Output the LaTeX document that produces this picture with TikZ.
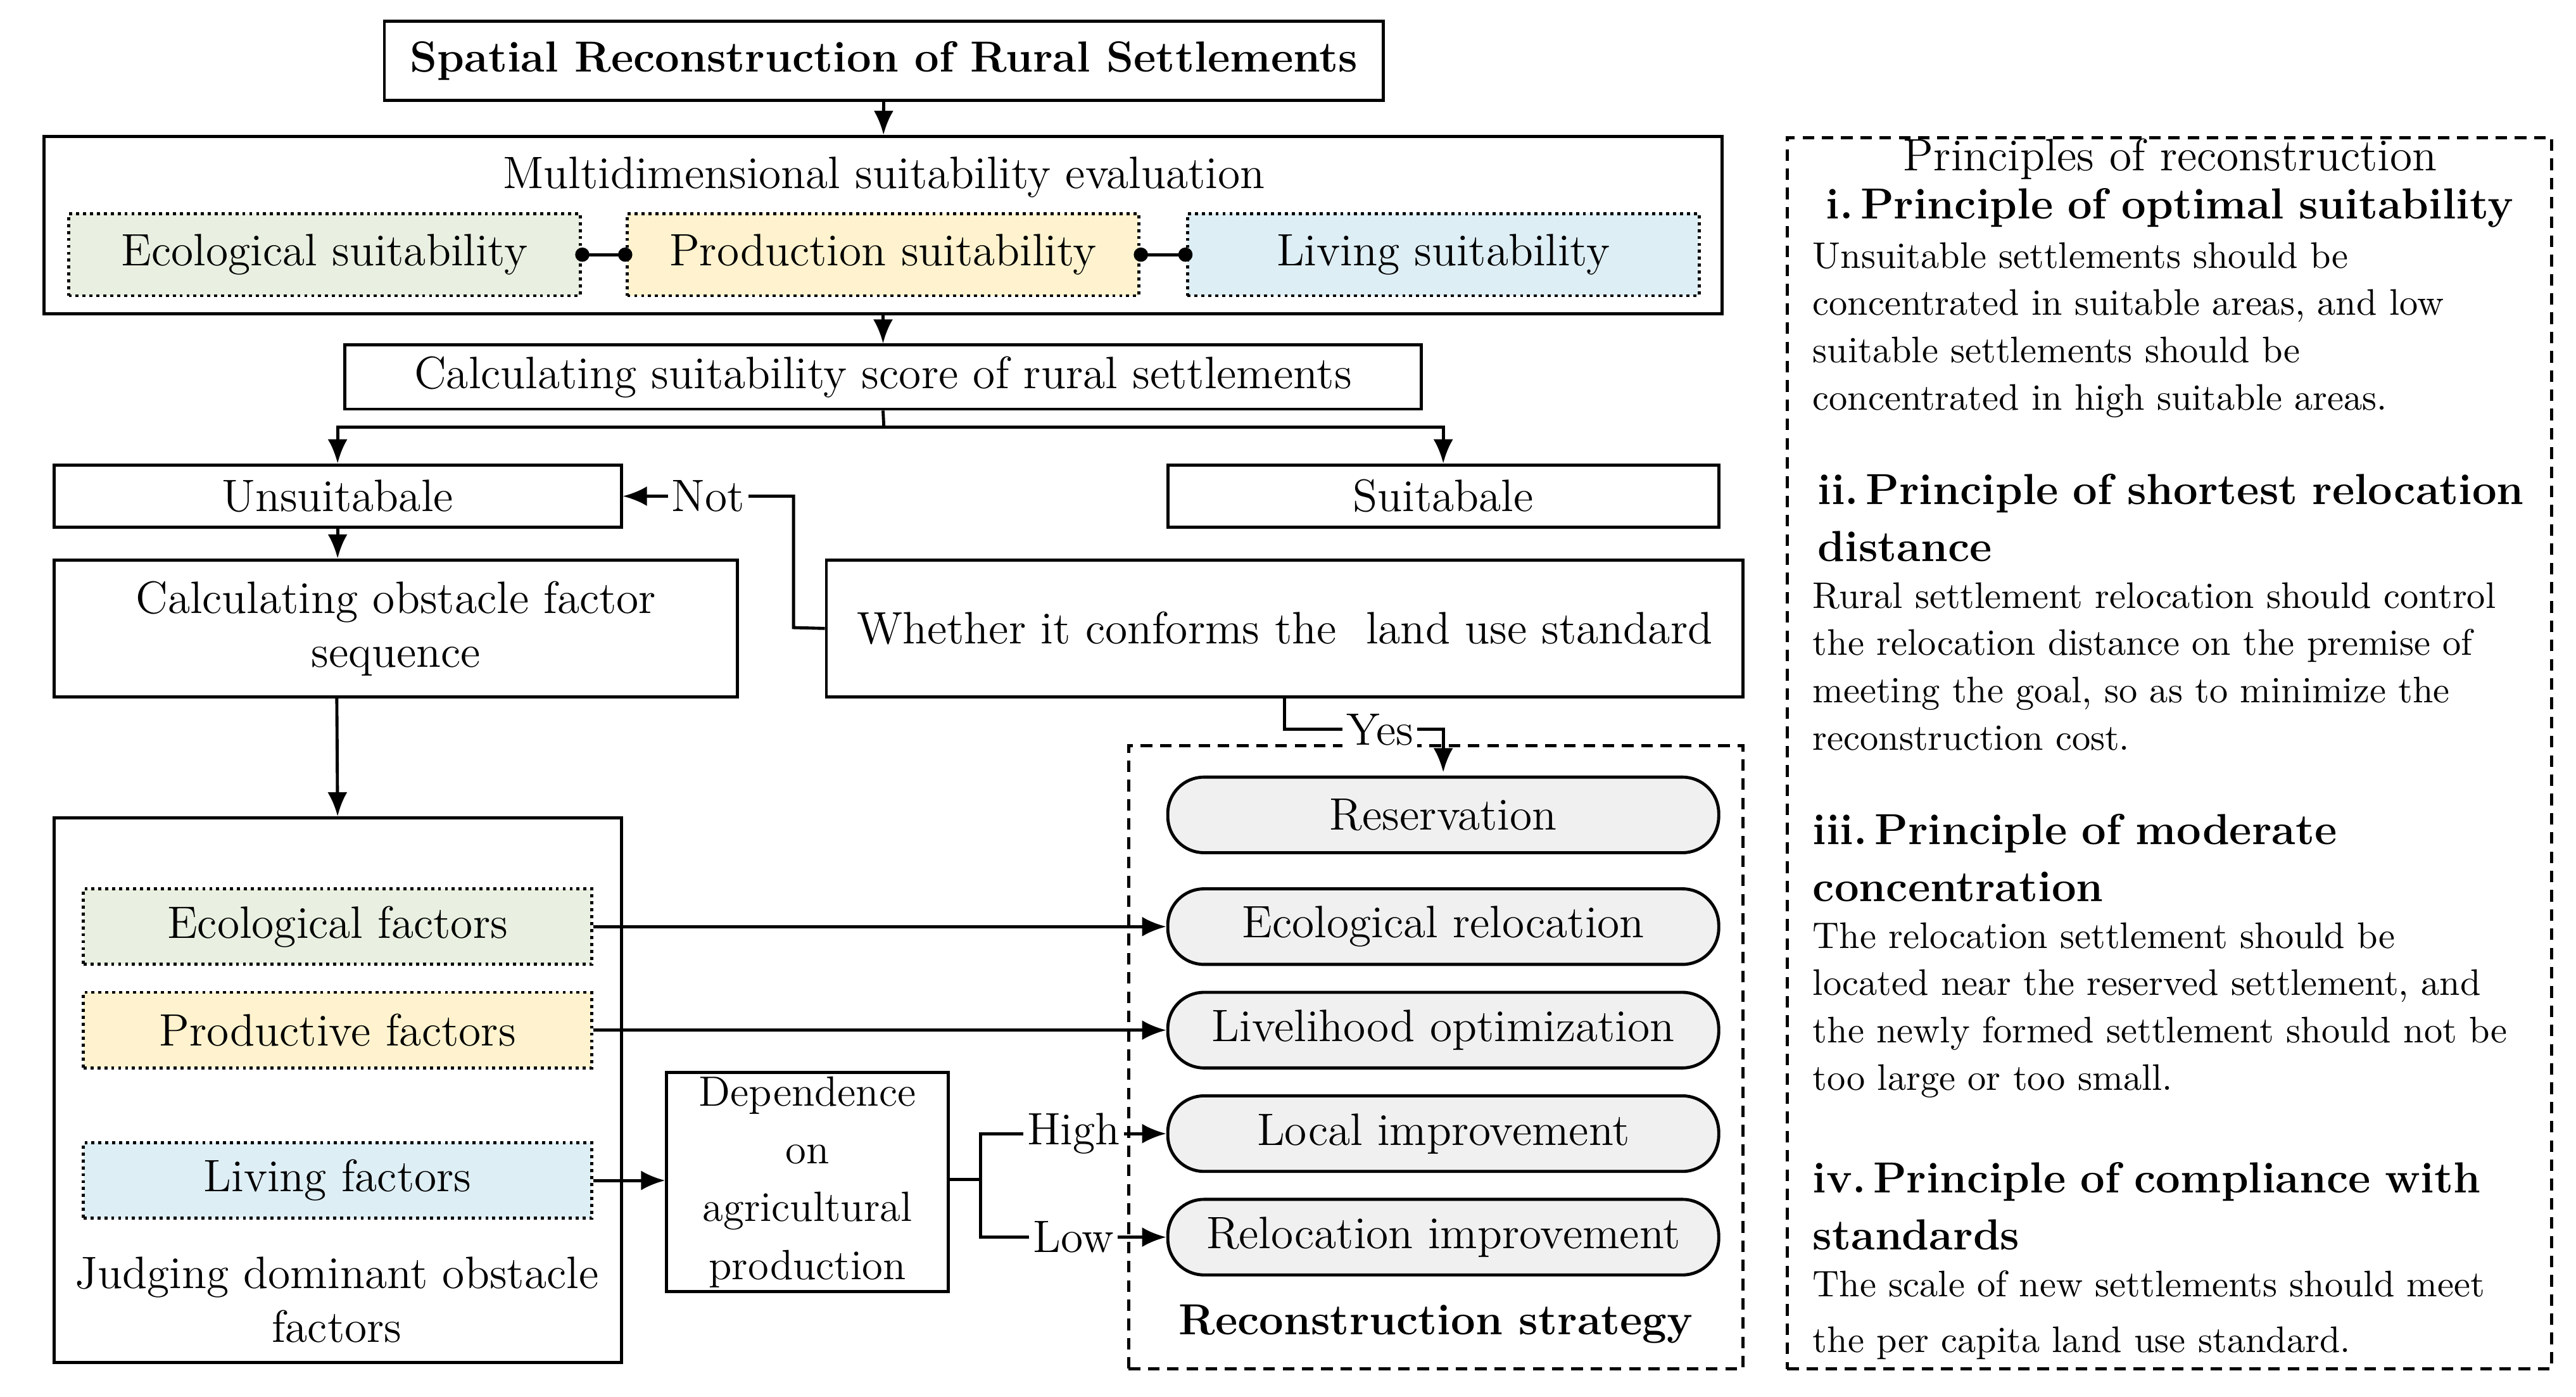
\documentclass[tikz,border=0pt]{standalone}
\usetikzlibrary{arrows.meta}
\definecolor{ecoc}{HTML}{E9F0E1}
\definecolor{proc}{HTML}{FEF3CE}
\definecolor{livc}{HTML}{DEEEF5}
\definecolor{strc}{HTML}{F0F0F0}
\begin{document}
\begin{tikzpicture}[x=0.015cm,y=-0.015cm,>={Latex[length=2.2mm,width=1.8mm]},font=\fontsize{11.8}{14}\selectfont]
\tikzstyle{b}=[draw, thick, inner sep=1pt, align=center];
\tikzstyle{f}=[b, densely dotted, minimum width=4.67cm, minimum height=0.75cm];
\tikzstyle{fac}=[f, minimum width=4.64cm, minimum height=0.69cm];
\tikzstyle{st}=[b, rounded corners=0.33cm, fill=strc, minimum width=5.03cm, minimum height=0.69cm];
\tikzstyle{t}=[anchor=north west, text width=7cm, align=left, inner sep=0pt];
\tikzstyle{tb}=[t, font=\fontsize{11.3}{14.8}\selectfont\bfseries];
\tikzstyle{tr}=[t, font=\fontsize{9.6}{12.3}\selectfont];
\useasboundingbox (0,0) rectangle (1568,850);
% left part
\node [b, minimum width=9.12cm, minimum height=0.72cm, font=\fontsize{11.3}{14}\selectfont\bfseries] (title) at (538,37) {Spatial Reconstruction of Rural Settlements};
\node [b, minimum width=15.32cm, minimum height=1.62cm] (multi) at (537.5,137) {};
\node (multit) at (538,108) {Multidimensional suitability evaluation};
\node [f, fill=ecoc] (ecos) at (197.5,155) {Ecological suitability};
\node [f, fill=proc] (pros) at (537.5,155) {Production suitability};
\node [f, fill=livc] (livs) at (878.5,155) {Living suitability};
\draw [thick, {Circle[length=1.3mm]}-{Circle[length=1.3mm]}, shorten <=-0.6mm, shorten >=-0.6mm] (ecos) -- (pros);
\draw [thick, {Circle[length=1.3mm]}-{Circle[length=1.3mm]}, shorten <=-0.6mm, shorten >=-0.6mm] (pros) -- (livs);
\draw [thick,->] (title) -- (multi);
\node [b, minimum width=9.83cm, minimum height=0.585cm] (calc) at (537.5,229.5) {Calculating suitability score of rural settlements};
\draw [thick,->] (multi) -- (calc);
\node [b, minimum width=5.18cm, minimum height=0.57cm] (unsuit) at (205.5,302) {Unsuitabale};
\node [b, minimum width=5.03cm, minimum height=0.57cm] (suit) at (878.5,302) {Suitabale};
\coordinate (split) at (538,260);
\draw [thick] (calc.south) -- (split);
\draw [thick,->] (split) -| (unsuit);
\draw [thick,->] (split) -| (suit);
\node [b, minimum width=6.24cm, minimum height=1.25cm] (obst) at (241,382.5) {Calculating obstacle factor\\sequence};
\node [b, minimum width=8.37cm, minimum height=1.25cm] (conf) at (782,382.5) {Whether it conforms the\ \ land use standard};
\draw [thick,->] (unsuit.south) -- (unsuit.south |- obst.north);
\coordinate (notc) at (483,382);
\draw [thick,->] (conf.west) -- (notc) |- node [pos=0.75, fill=white, inner sep=1pt] {Not} (unsuit.east);
% strategy
\node [b, densely dashed, minimum width=5.61cm, minimum height=5.69cm] (strat) at (874,643.5) {};
\node [font=\fontsize{11.3}{14}\selectfont\bfseries] (stratt) at (874,806) {Reconstruction strategy};
\node [st] (res) at (878.5,496) {Reservation};
\node [st] (ecor) at (878.5,564) {Ecological relocation};
\node [st] (live) at (878.5,627) {Livelihood optimization};
\node [st] (loc) at (878.5,690) {Local improvement};
\node [st] (rel) at (878.5,753) {Relocation improvement};
\coordinate (yesc) at (782,444);
\draw [thick,->] (yesc |- conf.south) -- (yesc) -| node [pos=0.3, fill=white, inner sep=1pt] {Yes} (878.5,470);
% factors
\node [b, minimum width=5.18cm, minimum height=4.97cm] (judge) at (205.5,663.5) {};
\node [align=center] (judget) at (205,791) {Judging dominant obstacle\\factors};
\draw [thick,->] (205,424) -- (judge.north);
\node [fac, fill=ecoc] (ecof) at (205.5,564) {Ecological factors};
\node [fac, fill=proc] (prof) at (205.5,627) {Productive factors};
\node [fac, fill=livc] (livf) at (205.5,718.5) {Living factors};
\node [b, minimum width=2.57cm, minimum height=2.0cm, font=\fontsize{11}{15}\selectfont] (dep) at (491.5,719.5) {Dependence\\on\\agricultural\\production};
\draw [thick,->] (ecof) -- (ecor);
\draw [thick,->] (prof) -- (live);
\draw [thick,->] (livf) -- (dep.west |- livf);
\coordinate (depc) at (597,718);
\draw [thick] (dep.east |- depc) -- (depc);
\draw [thick,->] (depc) |- node [pos=0.75, fill=white, inner sep=1pt] {High} (loc.west);
\draw [thick,->] (depc) |- node [pos=0.75, fill=white, inner sep=1pt] {Low} (rel.west);
% principles
\node [b, densely dashed, minimum width=6.98cm, minimum height=11.24cm] (princ) at (1320.5,458.5) {};
\node (princt) at (1321,97) {Principles of reconstruction};
\node [tb] (p1h) at (1111,114) {i.\,Principle of optimal suitability};
\node [tr] (p1b) at (1103,147) {Unsuitable settlements should be\\concentrated in suitable areas, and low\\suitable settlements should be\\concentrated in high suitable areas.};
\node [tb] (p2h) at (1106,288) {ii.\,Principle of shortest relocation\\distance};
\node [tr] (p2b) at (1103,354) {Rural settlement relocation should control\\the relocation distance on the premise of\\meeting the goal, so as to minimize the\\reconstruction cost.};
\node [tb] (p3h) at (1103,495) {iii.\,Principle of moderate\\concentration};
\node [tr] (p3b) at (1103,561) {The relocation settlement should be\\located near the reserved settlement, and\\the newly formed settlement should not be\\too large or too small.};
\node [tb] (p4h) at (1103,707) {iv.\,Principle of compliance with\\standards};
\node [tr, font=\fontsize{9.6}{14.5}\selectfont] (p4b) at (1103,773) {The scale of new settlements should meet\\the per capita land use standard.};
\end{tikzpicture}
\end{document}
